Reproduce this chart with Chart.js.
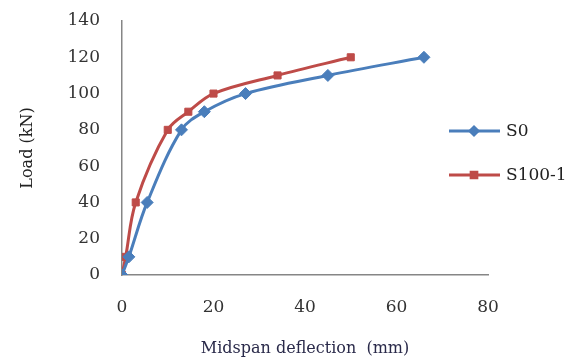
<!DOCTYPE html>
<html><head><meta charset="utf-8">
<script src="https://cdn.jsdelivr.net/npm/chart.js@4/dist/chart.umd.min.js"></script>
<style>html,body{margin:0;padding:0;background:#fff}#wrap{width:575px;height:362px}</style>
</head><body><div id="wrap"><canvas id="c" width="575" height="362"></canvas></div>
<script>
const seriesNames = ["S0", "S100-1"];
const s0Deflection = [0, 1.5, 5.5, 13, 18, 27, 45, 66];
const s0Load = [0, 10, 40, 80, 90, 100, 110, 120];
const s100Deflection = [0, 0.8, 3, 10, 14.5, 20, 34, 50];
const s100Load = [0, 10, 40, 80, 90, 100, 110, 120];
const xTicks = [0, 20, 40, 60, 80];
const yTicks = [0, 20, 40, 60, 80, 100, 120, 140];
const colors = ["#4a7ebb", "#be4b48"];
const markers = ["rectRot", "rect"];

const toPts = (xs, ys) => xs.map((x, i) => ({x, y: ys[i]}));
const FONT = "'DejaVu Serif', 'Liberation Serif', serif";

const legendPlugin = {
  id: 'customLegend',
  afterDraw(chart) {
    const ctx = chart.ctx;
    const ys = [131, 175];
    chart.data.datasets.forEach((ds, i) => {
      const y = ys[i];
      ctx.save();
      ctx.strokeStyle = ds.borderColor;
      ctx.lineWidth = 3;
      ctx.beginPath(); ctx.moveTo(449, y); ctx.lineTo(500, y); ctx.stroke();
      ctx.fillStyle = ds.borderColor;
      Chart.helpers.drawPoint(ctx, {pointStyle: ds.pointStyle, radius: 4, borderWidth: 1}, 474, y);
      ctx.fill();
      ctx.fillStyle = '#222';
      ctx.font = "17px " + FONT;
      ctx.textBaseline = 'middle';
      ctx.textAlign = 'left';
      ctx.fillText(ds.label, 506, y + 1);
      ctx.restore();
    });
  }
};

new Chart(document.getElementById('c'), {
  type: 'scatter',
  data: {
    datasets: [
      {label: seriesNames[0], data: toPts(s0Deflection, s0Load), borderColor: colors[0], backgroundColor: colors[0],
       pointStyle: markers[0], pointRadius: 6, pointBorderWidth: 1, borderWidth: 3, showLine: true, tension: 0.35},
      {label: seriesNames[1], data: toPts(s100Deflection, s100Load), borderColor: colors[1], backgroundColor: colors[1],
       pointStyle: markers[1], pointRadius: 5, pointBorderWidth: 1, borderWidth: 3, showLine: true, tension: 0.35}
    ]
  },
  options: {
    responsive: false,
    animation: false,
    devicePixelRatio: 1,
    layout: {padding: {left: 0, right: 87, top: 21, bottom: 0}},
    plugins: {legend: {display: false}, tooltip: {enabled: false}},
    scales: {
      x: {
        type: 'linear', min: 0, max: 80,
        afterBuildTicks: s => { s.ticks = xTicks.map(v => ({value: v})); },
        grid: {display: false, drawTicks: false},
        border: {display: true, color: '#868686', width: 1.5},
        ticks: {padding: 22, color: '#333', font: {family: FONT, size: 17}},
        title: {display: true, text: 'Midspan deflection  (mm)', color: '#2a2a4a', font: {family: FONT, size: 16}, padding: {top: 14, bottom: 4}},
        afterFit: s => { s.height = 87; s.paddingLeft = 0; s.paddingRight = 0; }
      },
      y: {
        type: 'linear', min: 0, max: 140,
        afterBuildTicks: s => { s.ticks = yTicks.map(v => ({value: v})); },
        grid: {display: false, drawTicks: false},
        border: {display: true, color: '#868686', width: 1.5},
        ticks: {padding: 22, color: '#333', font: {family: FONT, size: 17}},
        title: {display: true, text: 'Load (kN)', color: '#222', font: {family: FONT, size: 16}, padding: {top: 18, bottom: 0}},
        afterFit: s => { s.width = 122; s.paddingTop = 0; s.paddingBottom = 0; }
      }
    }
  },
  plugins: [legendPlugin]
});
</script></body></html>
